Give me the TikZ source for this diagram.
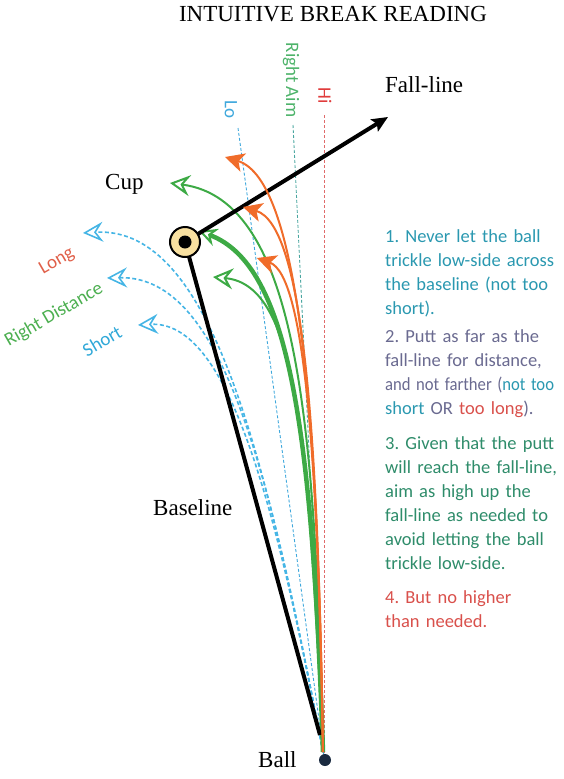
\documentclass[tikz,border=0pt]{standalone}
\usepackage{fontspec}
\usepackage{graphicx}
\setmainfont{Liberation Serif}
\newfontfamily\labfont{Carlito}
\usetikzlibrary{arrows.meta}
\definecolor{cblue}{HTML}{45B5E5}
\definecolor{cgreen}{HTML}{3DAA45}
\definecolor{corange}{HTML}{F06C2A}
\definecolor{clong}{HTML}{E0604A}
\definecolor{chi}{HTML}{E03C3C}
\definecolor{chiline}{HTML}{E06A6A}
\definecolor{caim}{HTML}{4DB36A}
\definecolor{caimline}{HTML}{4AA6A0}
\definecolor{clo}{HTML}{3FA8DC}
\definecolor{cshort}{HTML}{2FA8D8}
\definecolor{crd}{HTML}{4CAF50}
\definecolor{tone}{HTML}{2A98B0}
\definecolor{ttwo}{HTML}{6A6A90}
\definecolor{tthree}{HTML}{2E8C6A}
\definecolor{tfour}{HTML}{D9504B}
\definecolor{cupfill}{HTML}{F8E0A0}
\definecolor{cball}{HTML}{1A2A40}
\frenchspacing
\begin{document}
\begin{tikzpicture}[x=1pt,y=-1pt,
 serif/.style={font=\fontsize{23}{27}\selectfont, inner sep=0pt, anchor=base west},
 lab/.style={font=\labfont\fontsize{19}{23}\selectfont, inner sep=0pt},
 para/.style={font=\labfont\fontsize{18.5}{24}\selectfont\frenchspacing, inner sep=0pt, anchor=base west, text width=220pt, align=left},
 guide/.style={line width=0.9pt, dash pattern=on 3pt off 2pt},
 bluec/.style={cblue, line width=1.6pt, dash pattern=on 4pt off 2.5pt, -{Stealth[open, length=20pt, width=20pt, inset=7pt]}},
 greenc/.style={cgreen, line width=2pt, -{Stealth[open, fill=white, length=20pt, width=21pt, inset=7pt]}},
 greenthick/.style={cgreen, line width=4.5pt, -{Stealth[open, fill=white, line width=2pt, length=18pt, width=18pt, inset=6pt]}},
 orangec/.style={corange, line width=2pt, -{Stealth[length=19pt, width=19pt, inset=5pt]}},
 thickblack/.style={black, line width=4pt},
]
\useasboundingbox (0,0) rectangle (564,779);

% key points
\coordinate (ball) at (323,752);
\coordinate (ballend) at (324,756);
\coordinate (cupc) at (185,242);
\coordinate (blend) at (320,735);
\coordinate (flend) at (388,117);
\coordinate (lotop) at (238,128);
\coordinate (aimtop) at (293,125);
\coordinate (hitop) at (324,115);

% guide lines
\draw[guide, clo] (lotop) -- (ballend);
\draw[guide, caimline] (aimtop) -- (ballend);
\draw[guide, chiline] (hitop) -- (ballend);

% blue (distance) curves
\coordinate (tlong) at (83,233);
\coordinate (trd) at (107,278);
\coordinate (tshort) at (138,325);
\draw[bluec] (ball) .. controls (268,470) and (215,225) .. (tlong);
\draw[bluec] (ball) .. controls (271,480) and (225,275) .. (trd);
\draw[bluec] (ball) .. controls (275,500) and (228,320) .. (tshort);

% green (right aim) curves
\coordinate (gtop) at (170,183);
\coordinate (gmid) at (199,231);
\coordinate (glow) at (213,277);
\draw[greenc] (ball) .. controls (315,430) and (300,200) .. (gtop);
\draw[greenc] (ball) .. controls (308,450) and (300,285) .. (glow);
\draw[greenthick] (ball) .. controls (312,430) and (290,265) .. (gmid);

% black lines
\draw[thickblack] (cupc) -- (blend);
\draw[thickblack, -{Stealth[length=16pt, width=14pt, inset=3pt]}] (cupc) -- (flend);

% orange (hi) curves
\coordinate (otop) at (225,157);
\coordinate (omid) at (243,207);
\coordinate (olow) at (257,258);
\draw[orangec] (ball) .. controls (318,420) and (300,180) .. (otop);
\draw[orangec] (ball) .. controls (318,440) and (305,225) .. (omid);
\draw[orangec] (ball) .. controls (318,460) and (305,275) .. (olow);

% cup and ball
\node[circle, draw=black, line width=2pt, fill=cupfill, minimum size=30pt, inner sep=0pt] (cup) at (cupc) {};
\node[circle, fill=black, minimum size=13pt, inner sep=0pt] (hole) at (cupc) {};
\node[circle, fill=cball, minimum size=12pt, inner sep=0pt] (ballnode) at (325,760) {};

% serif labels
\node[serif, anchor=base] (title) at (333,21) {INTUITIVE BREAK READING};
\node[serif] (fl) at (385,92) {Fall-line};
\node[serif] (cuplab) at (105,189) {Cup};
\node[serif] (baselab) at (153,515) {Baseline};
\node[serif] (balllab) at (258,767) {Ball};

% coloured labels
\node[lab, rotate=30, text=clong] (long) at (57,261) {Long};
\node[lab, rotate=30, text=crd] (rdist) at (54,315) {Right Distance};
\node[lab, rotate=30, text=cshort] (short) at (102,341) {Short};
\node[lab, rotate=-90, text=clo] (lo) at (231,110) {Lo};
\node[lab, rotate=-90, text=caim] (aim) at (291,80) {Right Aim};
\node[lab, rotate=-90, text=chi] (hi) at (325,96) {Hi};

% explanatory text
\node[para, text=tone] (p1) at (385,242) {1. Never let the ball\\trickle low-side across\\the baseline (not too\\short).};
\node[para, text=ttwo] (p2) at (385,342) {2. Putt as far as the\\fall-line for distance,\\\scalebox{0.9}[1]{and not farther (\textcolor{tone}{not too}}\\\textcolor{tone}{short} OR \textcolor{tfour}{too long}).};
\node[para, text=tthree] (p3) at (385,449) {3. Given that the putt\\will reach the fall-line,\\aim as high up the\\fall-line as needed to\\avoid letting the ball\\trickle low-side.};
\node[para, text=tfour] (p4) at (385,603) {4. But no higher\\than needed.};
\end{tikzpicture}
\end{document}
